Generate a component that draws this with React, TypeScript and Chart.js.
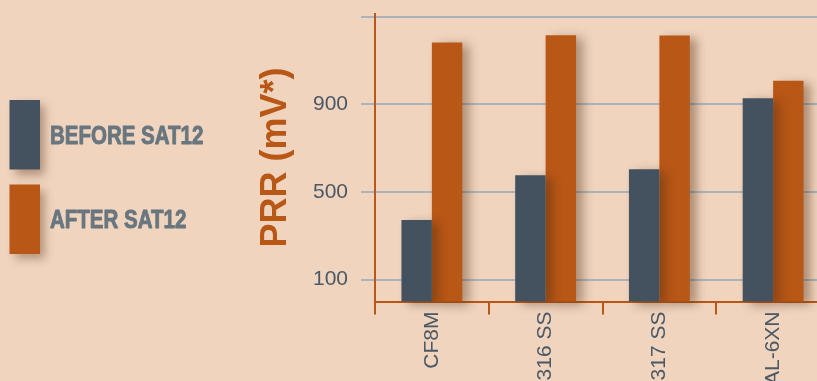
import { useEffect, useRef } from 'react';
import { Chart, registerables } from 'chart.js';

Chart.register(...registerables);

const categories = ['CF8M', '316 SS', '317 SS', 'AL-6XN'];
const beforeValues = [372, 577, 604, 928];
const afterValues = [1183, 1216, 1215, 1008];
const yTickValues = [100, 500, 900, 1300];
const seriesLabels = ['BEFORE SAT12', 'AFTER SAT12'];
const yAxisTitle = 'PRR (mV*)';

const BG = '#f0d4be';
const DARK = '#43525e';
const ORANGE = '#b95716';
const GRID = '#aab3bb';
const TICK_COLOR = '#4b5966';
const LEGEND_TEXT = '#68767f';
const FONT = '"Liberation Sans", Arial, Helvetica, sans-serif';

const CANVAS_W = 830;
const CANVAS_H = 381;

const bgPlugin = {
  id: 'bgFill',
  beforeDraw(chart: any) {
    const ctx = chart.ctx;
    ctx.save();
    ctx.fillStyle = BG;
    ctx.fillRect(0, 0, chart.width, chart.height);
    ctx.restore();
  },
};

const shadowPlugin = {
  id: 'barShadow',
  beforeDatasetDraw(chart: any) {
    const ctx = chart.ctx;
    ctx.save();
    ctx.shadowColor = 'rgba(80, 45, 20, 0.42)';
    ctx.shadowBlur = 10;
    ctx.shadowOffsetX = 7;
    ctx.shadowOffsetY = 3;
  },
  afterDatasetDraw(chart: any) {
    chart.ctx.restore();
  },
};

const sideLegendPlugin = {
  id: 'sideLegend',
  afterDraw(chart: any) {
    const ctx = chart.ctx;
    chart.data.datasets.forEach((ds: any, i: number) => {
      const top = 100 + i * 84.5;
      const h = 69.5;
      ctx.save();
      ctx.shadowColor = 'rgba(80, 45, 20, 0.4)';
      ctx.shadowBlur = 9;
      ctx.shadowOffsetX = 5;
      ctx.shadowOffsetY = 5;
      ctx.fillStyle = ds.backgroundColor;
      ctx.fillRect(9.5, top, 30.5, h);
      ctx.restore();

      ctx.save();
      ctx.font = 'bold 25px ' + FONT;
      ctx.fillStyle = LEGEND_TEXT;
      ctx.strokeStyle = LEGEND_TEXT;
      ctx.lineWidth = 0.9;
      ctx.lineJoin = 'round';
      ctx.textBaseline = 'alphabetic';
      ctx.textAlign = 'left';
      ctx.translate(50, top + h / 2 + 9);
      ctx.scale(0.82, 1);
      ctx.fillText(ds.label, 0, 0);
      ctx.strokeText(ds.label, 0, 0);
      ctx.restore();
    });
  },
};

export default function App() {
  const canvasRef = useRef<HTMLCanvasElement | null>(null);

  useEffect(() => {
    if (!canvasRef.current) return;
    const chart = new Chart(canvasRef.current, {
      type: 'bar',
      data: {
        labels: categories,
        datasets: [
          {
            label: seriesLabels[0],
            data: beforeValues,
            backgroundColor: DARK,
            borderWidth: 0,
            clip: false as any,
          },
          {
            label: seriesLabels[1],
            data: afterValues,
            backgroundColor: ORANGE,
            borderWidth: 0,
            clip: false as any,
          },
        ],
      },
      options: {
        animation: false,
        responsive: false,
        devicePixelRatio: 1,
        layout: { padding: { left: 230, top: 0, right: 0, bottom: 0 } },
        datasets: {
          bar: { categoryPercentage: 0.535, barPercentage: 1 },
        },
        plugins: {
          legend: { display: false },
          tooltip: { enabled: false },
          title: { display: false },
        },
        scales: {
          x: {
            afterFit: (s: any) => {
              s.height = CANVAS_H - 301.5;
              s.paddingLeft = 0;
              s.paddingRight = 0;
            },
            border: { color: ORANGE, width: 2 },
            grid: {
              drawOnChartArea: false,
              color: ORANGE,
              lineWidth: 2,
              tickLength: 13,
              offset: true,
            },
            ticks: {
              minRotation: 90,
              maxRotation: 90,
              autoSkip: false,
              padding: -3,
              color: TICK_COLOR,
              font: { family: FONT, size: 21 },
            },
          },
          y: {
            min: 0,
            max: 1315,
            afterBuildTicks: (s: any) => {
              s.ticks = yTickValues.map((v) => ({ value: v }));
            },
            afterFit: (s: any) => {
              s.width = 375 - 230;
              s.paddingTop = 13.5;
              s.paddingBottom = 0;
            },
            border: { color: ORANGE, width: 2 },
            grid: { color: GRID, lineWidth: 2, tickLength: 14 },
            ticks: {
              padding: 13,
              color: TICK_COLOR,
              font: { family: FONT, size: 21 },
              callback: (v: any) => (Number(v) === 1300 ? '' : String(v)),
            },
            title: {
              display: true,
              text: yAxisTitle,
              color: ORANGE,
              font: { family: FONT, size: 36, weight: 'bold' },
              padding: { top: 24, bottom: 0 },
            },
          },
        },
      },
      plugins: [bgPlugin, shadowPlugin, sideLegendPlugin],
    });
    return () => chart.destroy();
  }, []);

  return (
    <div
      style={{
        position: 'fixed',
        left: 0,
        top: 0,
        width: 817,
        height: 381,
        overflow: 'hidden',
        background: BG,
      }}
    >
      <canvas
        ref={canvasRef}
        width={CANVAS_W}
        height={CANVAS_H}
        style={{ display: 'block', width: CANVAS_W, height: CANVAS_H }}
      />
    </div>
  );
}
